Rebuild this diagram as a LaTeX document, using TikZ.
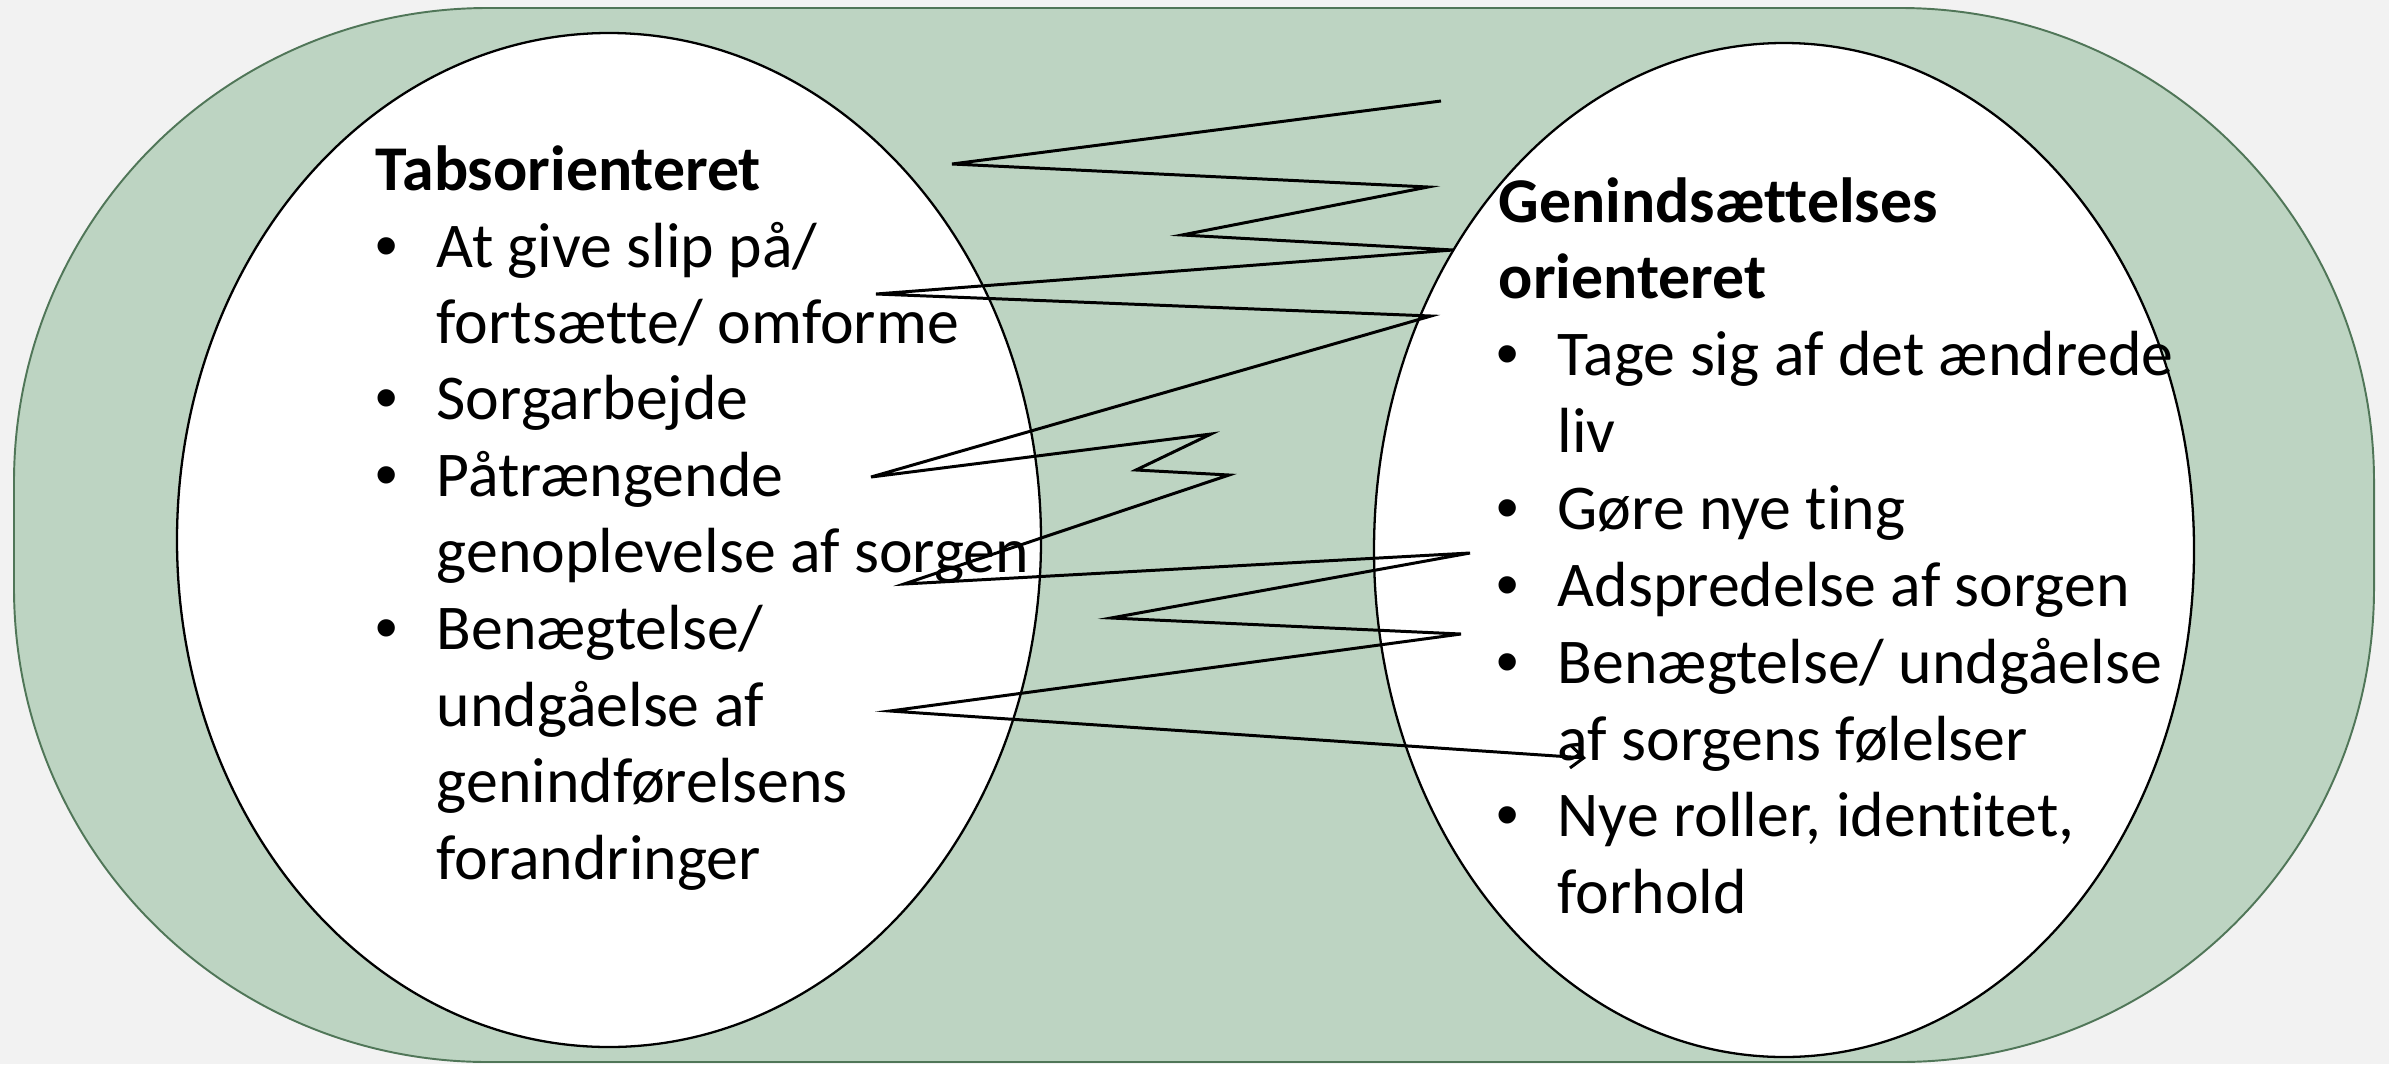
\documentclass[tikz,border=0pt]{standalone}
\usepackage{fontspec}
\setmainfont{Carlito}[Ligatures={NoCommon}]
\newfontfamily\bulletfont{Liberation Sans}
\usetikzlibrary{arrows.meta}
\definecolor{bgcol}{RGB}{242,242,242}
\definecolor{greenfill}{RGB}{189,212,194}
\definecolor{greenline}{RGB}{80,118,88}
\begin{document}
\begin{tikzpicture}[x=0.1mm,y=-0.1mm,
  txt/.style={anchor=base west,inner sep=0pt,font=\fontsize{18.15pt}{22pt}\selectfont},
  ttl/.style={anchor=base west,inner sep=0pt,font=\fontsize{18.15pt}{22pt}\selectfont\bfseries},
  bul/.style={anchor=base,inner sep=0pt,font=\fontsize{18.15pt}{22pt}\bulletfont},
  oval/.style={draw=black,fill=white,line width=0.65pt},
  zig/.style={draw=black,line width=0.85pt,-{Straight Barb[length=1.3mm,width=2.2mm]}}
]
\useasboundingbox (0,0) rectangle (2389,1064);
\fill[bgcol] (0,0) rectangle (2389,1064);
\draw[fill=greenfill,draw=greenline,line width=0.55pt,rounded corners=47.4mm] (14,8) rectangle (2374,1062);
\draw[oval] (609,540) ellipse [x radius=432, y radius=507];
\draw[oval] (1784,550) ellipse [x radius=410, y radius=507];

% left block
\node[ttl] (lt) at (375,190) {Tabsorienteret};
\node[bul] (lb1) at (387,267) {•};
\node[txt] (l1) at (436,267) {At give slip på/};
\node[txt] (l2) at (436,343) {fortsætte/ omforme};
\node[bul] (lb2) at (387,419) {•};
\node[txt] (l3) at (436,419) {Sorgarbejde};
\node[bul] (lb3) at (387,496) {•};
\node[txt] (l4) at (436,496) {Påtrængende};
\node[txt] (l5) at (436,572) {genoplevelse af sorgen};
\node[bul] (lb4) at (387,649) {•};
\node[txt] (l6) at (436,649) {Benægtelse/};
\node[txt] (l7) at (436,726) {undgåelse af};
\node[txt] (l8) at (436,802) {genindførelsens};
\node[txt] (l9) at (436,879) {forandringer};

% right block
\node[ttl] (rt1) at (1498,222) {Genindsættelses};
\node[ttl] (rt2) at (1498,298) {orienteret};
\node[bul] (rb1) at (1508,375) {•};
\node[txt] (r1) at (1557,375) {Tage sig af det ændrede};
\node[txt] (r2) at (1557,452) {liv};
\node[bul] (rb2) at (1508,529) {•};
\node[txt] (r3) at (1557,529) {Gøre nye ting};
\node[bul] (rb3) at (1508,606) {•};
\node[txt] (r4) at (1557,606) {Adspredelse af sorgen};
\node[bul] (rb4) at (1508,683) {•};
\node[txt] (r5) at (1557,683) {Benægtelse/ undgåelse};
\node[txt] (r6) at (1557,760) {af sorgens følelser};
\node[bul] (rb5) at (1508,836) {•};
\node[txt] (r7) at (1557,836) {Nye roller, identitet,};
\node[txt] (r8) at (1557,913) {forhold};

% zigzag
\coordinate (z1) at (1441,101);
\coordinate (z2) at (952,164);
\coordinate (z3) at (1428,187);
\coordinate (z4) at (1182,235);
\coordinate (z5) at (1453,250);
\coordinate (z6) at (876,294);
\coordinate (z7) at (1431,316);
\coordinate (z8) at (871,477);
\coordinate (z9) at (1211,434);
\coordinate (z10) at (1136,470);
\coordinate (z11) at (1229,475);
\coordinate (z12) at (904,584);
\coordinate (z13) at (1470,553);
\coordinate (z14) at (1111,618);
\coordinate (z15) at (1461,634);
\coordinate (z16) at (890,711);
\coordinate (z17) at (1586,758);
\draw[zig] (z1) -- (z2) -- (z3) -- (z4) -- (z5) -- (z6) -- (z7) -- (z8) -- (z9) -- (z10) -- (z11) -- (z12) -- (z13) -- (z14) -- (z15) -- (z16) -- (z17);
\end{tikzpicture}
\end{document}
